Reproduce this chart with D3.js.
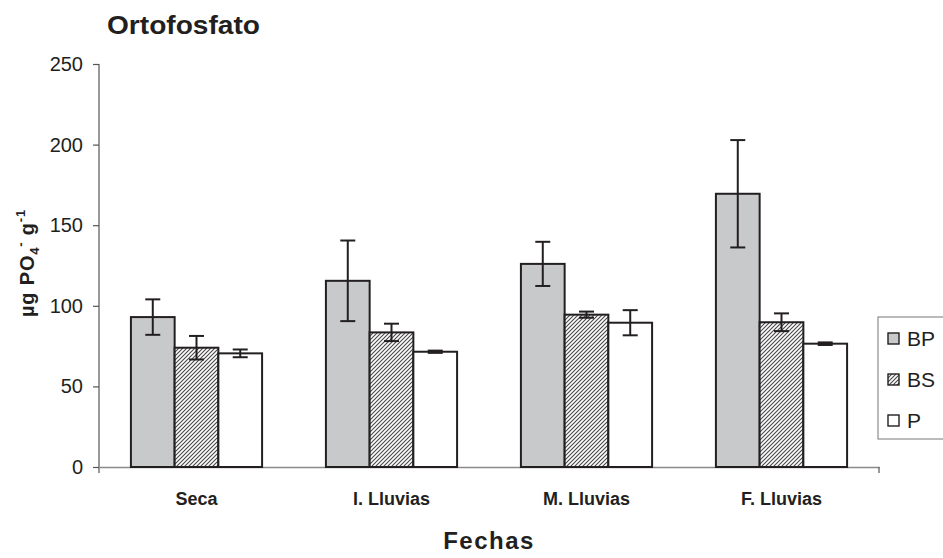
<!DOCTYPE html>
<html>
<head>
<meta charset="utf-8">
<script src="https://cdn.jsdelivr.net/npm/d3@7"></script>
<style>
  html, body { margin: 0; padding: 0; background: #fff; }
  svg { display: block; font-family: "Liberation Sans", Arial, sans-serif; }
</style>
</head>
<body>
<svg id="chart" width="943" height="558"></svg>
<script>
// Sampling periods
const categories = ["Seca", "I. Lluvias", "M. Lluvias", "F. Lluvias"];
// Series names
const seriesNames = ["BP", "BS", "P"];
// Mean orthophosphate (µg PO4 g-1) per series
const valuesBP = [93, 115.5, 126, 169.5];
const valuesBS = [74, 83.5, 94.5, 89.8];
const valuesP  = [70.5, 71.5, 89.5, 76.5];
// Error bar half-widths
const errBP = [11, 25, 13.7, 33.3];
const errBS = [7.3, 5.4, 1.9, 5.5];
const errP  = [2.4, 0.7, 7.8, 0.8];
// Y-axis tick values
const yTicks = [0, 50, 100, 150, 200, 250];

const series = [
  { name: seriesNames[0], values: valuesBP, errs: errBP, fill: "#c8c9cb" },
  { name: seriesNames[1], values: valuesBS, errs: errBS, fill: "url(#hatch)" },
  { name: seriesNames[2], values: valuesP,  errs: errP,  fill: "#ffffff" }
];

const ink = "#231f20";
const svg = d3.select("#chart");

// Diagonal hatch used for BS
const defs = svg.append("defs");
const pat = defs.append("pattern")
  .attr("id", "hatch")
  .attr("patternUnits", "userSpaceOnUse")
  .attr("width", 4).attr("height", 4);
pat.append("rect").attr("width", 4).attr("height", 4).attr("fill", "#fff");
pat.append("path")
  .attr("d", "M-1,1 l2,-2 M0,4 l4,-4 M3,5 l2,-2")
  .attr("stroke", "#4a4a4a").attr("stroke-width", 1.15);

const plot = { left: 99, right: 879, top: 64, bottom: 467 };

const x0 = d3.scaleBand().domain(categories).range([plot.left, plot.right]).padding(0);
const x1 = d3.scaleBand().domain(seriesNames).range([0, x0.bandwidth()])
  .paddingInner(0).paddingOuter(0.73);
const y = d3.scaleLinear().domain([0, 250]).range([plot.bottom, plot.top]);

// Y axis
const yAxis = svg.append("g")
  .attr("transform", `translate(${plot.left},0)`)
  .call(d3.axisLeft(y).tickValues(yTicks).tickSize(6).tickPadding(10).tickSizeOuter(0));
yAxis.select(".domain").attr("stroke", "#555").attr("stroke-width", 1.2)
  .attr("d", `M0,${plot.top}V${plot.bottom + 6}`);
yAxis.selectAll(".tick line").attr("stroke", "#555").attr("stroke-width", 1.2);
yAxis.selectAll(".tick text")
  .attr("fill", ink).attr("font-size", 20)
  .attr("font-family", "Liberation Sans, Arial, sans-serif");

// X axis baseline
const xAxis = svg.append("g")
  .attr("transform", `translate(0,${plot.bottom})`)
  .call(d3.axisBottom(x0).tickSize(0).tickPadding(25).tickSizeOuter(0));
xAxis.select(".domain").attr("stroke", "#8a8a8a").attr("stroke-width", 1.3);
xAxis.selectAll(".tick text")
  .attr("fill", ink).attr("font-size", 18).attr("font-weight", "bold")
  .attr("font-family", "Liberation Sans, Arial, sans-serif");
svg.append("line")
  .attr("x1", plot.right).attr("x2", plot.right)
  .attr("y1", plot.bottom).attr("y2", plot.bottom + 6)
  .attr("stroke", "#555").attr("stroke-width", 1.2);

// Bars
const groups = svg.append("g").selectAll("g")
  .data(categories).join("g")
  .attr("transform", d => `translate(${x0(d)},0)`);

groups.selectAll("rect")
  .data((c, i) => series.map(s => ({ s, v: s.values[i], e: s.errs[i] })))
  .join("rect")
  .attr("x", d => x1(d.s.name))
  .attr("y", d => y(d.v))
  .attr("width", x1.bandwidth())
  .attr("height", d => y(0) - y(d.v))
  .attr("fill", d => d.s.fill)
  .attr("stroke", ink).attr("stroke-width", 2);

// Error bars
const eb = groups.selectAll("g.err")
  .data((c, i) => series.map(s => ({ s, v: s.values[i], e: s.errs[i] })))
  .join("g").attr("class", "err")
  .attr("stroke", ink).attr("stroke-width", 2);
const cx = d => x1(d.s.name) + x1.bandwidth() / 2;
eb.append("line")
  .attr("x1", cx).attr("x2", cx)
  .attr("y1", d => y(d.v + d.e)).attr("y2", d => y(d.v - d.e));
eb.append("line")
  .attr("x1", d => cx(d) - 7.5).attr("x2", d => cx(d) + 7.5)
  .attr("y1", d => y(d.v + d.e)).attr("y2", d => y(d.v + d.e));
eb.append("line")
  .attr("x1", d => cx(d) - 7.5).attr("x2", d => cx(d) + 7.5)
  .attr("y1", d => y(d.v - d.e)).attr("y2", d => y(d.v - d.e));

// Title
svg.append("text")
  .attr("x", 107).attr("y", 34)
  .attr("font-size", 25).attr("font-weight", "bold").attr("fill", ink)
  .attr("textLength", 153).attr("lengthAdjust", "spacingAndGlyphs")
  .text("Ortofosfato");

// X axis title
svg.append("text")
  .attr("x", 489).attr("y", 549)
  .attr("text-anchor", "middle")
  .attr("font-size", 24).attr("font-weight", "bold").attr("fill", ink)
  .attr("letter-spacing", 1.5)
  .text("Fechas");

// Y axis title
const yt = svg.append("text")
  .attr("transform", "translate(34,263) rotate(-90)")
  .attr("text-anchor", "middle")
  .attr("font-size", 20).attr("font-weight", "bold").attr("fill", ink)
  .attr("letter-spacing", 0.8);
yt.append("tspan").text("µg   PO");
yt.append("tspan").attr("font-size", 13).attr("dy", 5).text("4");
yt.append("tspan").attr("font-size", 13).attr("dy", -14).text("-");
yt.append("tspan").attr("dy", 9).text(" g");
yt.append("tspan").attr("font-size", 13).attr("dy", -9).text("-1");

// Legend
const legend = svg.append("g");
legend.append("rect")
  .attr("x", 878).attr("y", 317).attr("width", 80).attr("height", 122)
  .attr("fill", "#fff").attr("stroke", "#777").attr("stroke-width", 1);
const li = legend.selectAll("g.item").data(series).join("g")
  .attr("class", "item")
  .attr("transform", (d, i) => `translate(888,${333 + i * 41})`);
li.append("rect")
  .attr("width", 11).attr("height", 11)
  .attr("fill", d => d.fill).attr("stroke", ink).attr("stroke-width", 1.4);
li.append("text")
  .attr("x", 19).attr("y", 13)
  .attr("font-size", 21).attr("fill", ink)
  .text(d => d.name);
</script>
</body>
</html>
